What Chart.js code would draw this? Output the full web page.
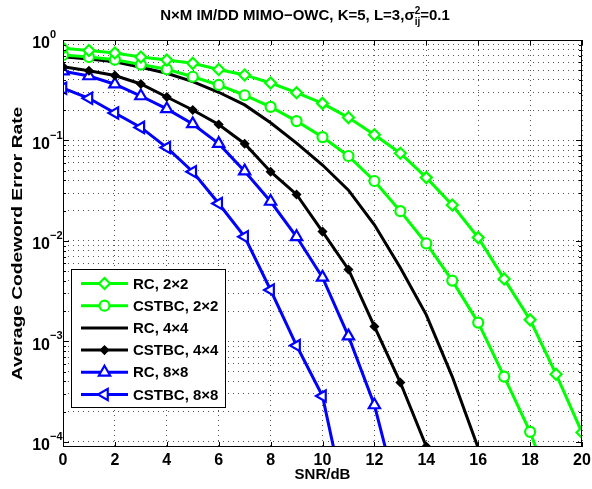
<!DOCTYPE html>
<html>
<head>
<meta charset="utf-8">
<script src="https://cdn.jsdelivr.net/npm/chart.js@4.4.0/dist/chart.umd.min.js"></script>
<style>
  body { margin: 0; background: #fff; }
</style>
</head>
<body>
<canvas id="ber" width="592" height="489"></canvas>
<script>
// SNR axis (dB)
const snr = [0,1,2,3,4,5,6,7,8,9,10,11,12,13,14,15,16,17,18,19,20];

// codeword error rates
const rc22     = [0.83,0.786,0.743,0.677,0.633,0.586,0.508,0.449,0.373,0.299,0.234,0.169,0.114,0.0746,0.0427,0.0228,0.0108,0.00419,0.00164,4.72e-4,1.24e-4];
const cstbc22  = [0.709,0.677,0.637,0.570,0.511,0.431,0.357,0.282,0.216,0.156,0.108,0.0701,0.0395,0.0198,0.00944,0.00403,0.00154,4.47e-4,1.26e-4,2.5e-5];
const rc44     = [0.683,0.647,0.608,0.535,0.466,0.385,0.302,0.226,0.150,0.094,0.057,0.032,0.0145,0.0054,0.00184,4.47e-4,8.7e-5,1.4e-5];
const cstbc44  = [0.543,0.495,0.443,0.365,0.271,0.201,0.144,0.0929,0.0489,0.0290,0.0124,0.0052,0.00141,3.9e-4,9.0e-5,1.5e-5];
const rc88     = [0.49,0.438,0.363,0.277,0.206,0.146,0.093,0.0495,0.0247,0.0110,0.00434,0.00113,2.33e-4,2.3e-5];
const cstbc88  = [0.331,0.263,0.188,0.135,0.085,0.0489,0.0236,0.0110,0.00325,9.1e-4,2.86e-4,1.8e-5];

const seriesNames = ["RC, 2\u00d72","CSTBC, 2\u00d72","RC, 4\u00d74","CSTBC, 4\u00d74","RC, 8\u00d78","CSTBC, 8\u00d78"];

const xTicks = [0,2,4,6,8,10,12,14,16,18,20];
const yDecades = [1e-4,1e-3,1e-2,1e-1,1];
const yExp = ["\u22124","\u22123","\u22122","\u22121","0"];

const titleMain = "N\u00d7M IM/DD MIMO\u2212OWC, K=5, L=3,";
const xTitle = "SNR/dB";
const yTitle = "Average Codeword Error Rate";

const FONT = '"Liberation Sans", Arial, sans-serif';

function pts(vals) {
  return vals.map((v, i) => ({x: snr[i], y: v}));
}

function line(label, vals, color, style, radius, rot, fill) {
  return {
    label: label,
    data: pts(vals),
    borderColor: color,
    backgroundColor: color,
    borderWidth: 3,
    tension: 0,
    pointStyle: style,
    pointRadius: radius,
    pointRotation: rot,
    pointBorderWidth: 2.2,
    pointBackgroundColor: fill,
    pointBorderColor: color
  };
}

// legend drawn inside plot like matlab
const boxLegend = {
  id: 'boxLegend',
  afterDatasetsDraw(chart) {
    const ctx = chart.ctx;
    const bx = 71, by = 269, bw = 154, bh = 138;
    ctx.save();
    ctx.fillStyle = '#fff';
    ctx.fillRect(bx, by, bw, bh);
    ctx.strokeStyle = '#000';
    ctx.lineWidth = 1;
    ctx.strokeRect(bx + 0.5, by + 0.5, bw, bh);
    chart.data.datasets.forEach((ds, i) => {
      const ry = 283.5 + i * 22.2;
      ctx.strokeStyle = ds.borderColor;
      ctx.lineWidth = ds.borderWidth;
      ctx.beginPath();
      ctx.moveTo(81, ry);
      ctx.lineTo(128, ry);
      ctx.stroke();
      if (ds.pointRadius > 0) {
        ctx.fillStyle = ds.pointBackgroundColor;
        ctx.strokeStyle = ds.pointBorderColor;
        ctx.lineWidth = ds.pointBorderWidth;
        Chart.helpers.drawPoint(ctx, {
          pointStyle: ds.pointStyle, radius: ds.pointRadius,
          rotation: ds.pointRotation, borderWidth: ds.pointBorderWidth
        }, 104.5, ry);
      }
      ctx.fillStyle = '#000';
      ctx.font = 'bold 15px ' + FONT;
      ctx.textAlign = 'left';
      ctx.textBaseline = 'middle';
      ctx.fillText(ds.label, 133, ry + 1);
    });
    ctx.restore();
  }
};

// box, inward ticks, tick labels, titles
const axisDeco = {
  id: 'axisDeco',
  afterDraw(chart) {
    const ctx = chart.ctx;
    const a = chart.chartArea;
    const xs = chart.scales.x, ys = chart.scales.y;
    ctx.save();
    ctx.strokeStyle = '#000';
    ctx.lineWidth = 1;
    ctx.strokeRect(a.left + 0.5, a.top + 0.5, a.right - a.left - 1, a.bottom - a.top - 1);

    ctx.beginPath();
    xTicks.forEach(v => {
      const px = Math.round(xs.getPixelForValue(v)) + 0.5;
      ctx.moveTo(px, a.bottom); ctx.lineTo(px, a.bottom - 5);
      ctx.moveTo(px, a.top); ctx.lineTo(px, a.top + 5);
    });
    ys.ticks.forEach(t => {
      const py = Math.round(ys.getPixelForValue(t.value)) + 0.5;
      const len = yDecades.includes(t.value) ? 6 : 3;
      ctx.moveTo(a.left, py); ctx.lineTo(a.left + len, py);
      ctx.moveTo(a.right, py); ctx.lineTo(a.right - len, py);
    });
    ctx.stroke();

    ctx.fillStyle = '#000';
    ctx.font = 'bold 16px ' + FONT;
    ctx.textAlign = 'center';
    ctx.textBaseline = 'top';
    xTicks.forEach(v => {
      ctx.fillText(String(v), xs.getPixelForValue(v), a.bottom + 6);
    });

    yDecades.forEach((d, i) => {
      const py = ys.getPixelForValue(d);
      ctx.font = 'bold 16px ' + FONT;
      ctx.textAlign = 'right';
      ctx.textBaseline = 'middle';
      ctx.fillText('10', a.left - 13, py + 4);
      ctx.font = 'bold 11px ' + FONT;
      ctx.textAlign = 'left';
      ctx.fillText(yExp[i], a.left - 13, py - 5);
    });

    // axis titles
    ctx.font = 'bold 15px ' + FONT;
    ctx.textAlign = 'center';
    ctx.textBaseline = 'middle';
    ctx.fillText(xTitle, (a.left + a.right) / 2, 475);
    ctx.save();
    ctx.translate(18, (a.top + a.bottom) / 2);
    ctx.rotate(-Math.PI / 2);
    ctx.scale(1.28, 1);   // figure text looks stretched along the axis
    ctx.fillText(yTitle, 0, 0);
    ctx.restore();

    // title with sigma_ij^2
    ctx.font = 'bold 15px ' + FONT;
    const w1 = ctx.measureText(titleMain).width;
    const wS = ctx.measureText('\u03c3').width;
    const wE = ctx.measureText('=0.1').width;
    ctx.font = 'bold 10px ' + FONT;
    const wSub = Math.max(ctx.measureText('2').width, ctx.measureText('ij').width);
    const total = w1 + wS + wSub + wE;
    let tx = 305 - total / 2;
    const ty = 16;
    ctx.textAlign = 'left';
    ctx.font = 'bold 15px ' + FONT;
    ctx.fillText(titleMain, tx, ty); tx += w1;
    ctx.fillText('\u03c3', tx, ty); tx += wS;
    ctx.font = 'bold 10px ' + FONT;
    ctx.fillText('2', tx, ty - 5);
    ctx.fillText('ij', tx, ty + 6);
    tx += wSub;
    ctx.font = 'bold 15px ' + FONT;
    ctx.fillText('=0.1', tx, ty);
    ctx.restore();
  }
};

new Chart(document.getElementById('ber'), {
  type: 'line',
  data: {
    datasets: [
      line(seriesNames[0], rc22, '#00ff00', 'rectRot', 5.5, 0, '#fff'),
      line(seriesNames[1], cstbc22, '#00ff00', 'circle', 5, 0, '#fff'),
      line(seriesNames[2], rc44, '#000000', 'circle', 0, 0, '#000'),
      line(seriesNames[3], cstbc44, '#000000', 'rectRot', 3.5, 0, '#000'),
      line(seriesNames[4], rc88, '#0000ff', 'triangle', 6.5, 0, '#fff'),
      line(seriesNames[5], cstbc88, '#0000ff', 'triangle', 6.5, -90, '#fff')
    ]
  },
  options: {
    responsive: false,
    animation: false,
    devicePixelRatio: 1,
    layout: { padding: { left: 63, right: 10, top: 40, bottom: 42 } },
    plugins: { legend: { display: false }, tooltip: { enabled: false } },
    scales: {
      x: {
        type: 'linear', min: 0, max: 20,
        ticks: { display: false, stepSize: 2 },
        grid: { drawTicks: false, color: '#555', lineWidth: 1 },
        border: { display: false, dash: [1, 4] }
      },
      y: {
        type: 'logarithmic', min: 8.9e-5, max: 1,
        ticks: { display: false },
        afterBuildTicks: (scale) => {
          const tk = [];
          for (let i = 0; i < yDecades.length - 1; i++) {
            for (let m = 1; m < 10; m++) tk.push({ value: yDecades[i] * m });
          }
          tk.push({ value: 1 });
          scale.ticks = tk;
        },
        grid: { drawTicks: false, color: '#555', lineWidth: 1 },
        border: { display: false, dash: [1, 4] }
      }
    }
  },
  plugins: [boxLegend, axisDeco]
});
</script>
</body>
</html>
